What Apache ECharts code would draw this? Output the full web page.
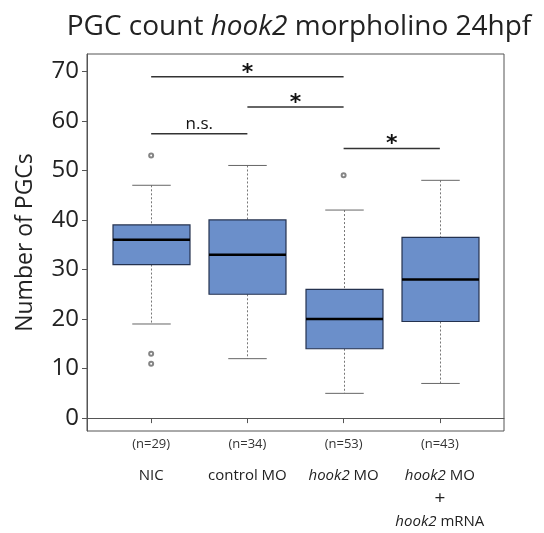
<!DOCTYPE html>
<html><head><meta charset="utf-8">
<script src="https://cdn.jsdelivr.net/npm/echarts@6/dist/echarts.min.js"></script>
<style>html,body{margin:0;padding:0;background:#fff}#c{width:544px;height:533px}</style>
</head><body><div id="c"></div>
<script>
const categories = ['NIC', 'control MO', 'hook2 MO', 'hook2 MO + hook2 mRNA'];
const counts = ['(n=29)', '(n=34)', '(n=53)', '(n=43)'];
const whiskerLow = [19, 12, 5, 7];
const q1 = [31, 25, 14, 19.5];
const median = [36, 33, 20, 28];
const q3 = [39, 40, 26, 36.5];
const whiskerHigh = [47, 51, 42, 48];
const outlierGroup = [1, 1, 1, 3];
const outlierValue = [53, 13, 11, 49];
const sigFrom = [1, 2, 1, 3];
const sigTo = [3, 3, 2, 4];
const sigY = [68.9, 62.8, 57.4, 54.4];
const sigText = ['*', '*', 'n.s.', '*'];
const yTicks = [0, 10, 20, 30, 40, 50, 60, 70];
const xPos = [1, 2, 3, 4];

const FONT = 'Open Sans';
const chart = echarts.init(document.getElementById('c'), null, {renderer: 'canvas'});

const boxData = xPos.map((x, i) => [x, whiskerLow[i], q1[i], median[i], q3[i], whiskerHigh[i]]);
const outData = outlierGroup.map((g, i) => [g, outlierValue[i]]);
const sigData = sigFrom.map((f, i) => [f, sigTo[i], sigY[i], i]);

function nameLabel(v) {
  const i = Math.round(v) - 1;
  if (i === 0) return 'NIC';
  if (i === 1) return 'control MO';
  if (i === 2) return '{i|hook2} MO';
  if (i === 3) return '{i|hook2} MO\n{p|+}\n{i|hook2} mRNA';
  return '';
}

function renderBox(params, api) {
  const x = api.value(0);
  const lo = api.coord([x, api.value(1)]);
  const a = api.coord([x, api.value(2)]);
  const m = api.coord([x, api.value(3)]);
  const b = api.coord([x, api.value(4)]);
  const hi = api.coord([x, api.value(5)]);
  const bw = api.size([0.8, 0])[0];
  const cw = api.size([0.4, 0])[0];
  const cx = Math.round(lo[0]) + 0.5;
  const dash = {stroke: '#777', lineWidth: 1, lineDash: [2, 2]};
  const cap = {stroke: '#666', lineWidth: 1};
  return {type: 'group', children: [
    {type: 'line', shape: {x1: cx, y1: hi[1], x2: cx, y2: b[1]}, style: dash},
    {type: 'line', shape: {x1: cx, y1: a[1], x2: cx, y2: lo[1]}, style: dash},
    {type: 'line', shape: {x1: cx - cw / 2, y1: hi[1], x2: cx + cw / 2, y2: hi[1]}, style: cap},
    {type: 'line', shape: {x1: cx - cw / 2, y1: lo[1], x2: cx + cw / 2, y2: lo[1]}, style: cap},
    {type: 'rect', shape: {x: cx - bw / 2, y: b[1], width: bw, height: a[1] - b[1]},
      style: {fill: '#6b8fca', stroke: '#24324f', lineWidth: 1.2}},
    {type: 'line', shape: {x1: cx - bw / 2, y1: m[1], x2: cx + bw / 2, y2: m[1]},
      style: {stroke: '#000', lineWidth: 2.5}}
  ]};
}

function renderSig(params, api) {
  const y = api.value(2);
  const p1 = api.coord([api.value(0), y]);
  const p2 = api.coord([api.value(1), y]);
  const txt = sigText[api.value(3)];
  const isStar = txt === '*';
  return {type: 'group', children: [
    {type: 'line', shape: {x1: p1[0], y1: p1[1], x2: p2[0], y2: p2[1]},
      style: {stroke: '#333', lineWidth: 1.5}},
    {type: 'text', style: {
      text: txt, x: (p1[0] + p2[0]) / 2, y: isStar ? p1[1] + 7 : p1[1] - 1,
      align: 'center', verticalAlign: 'bottom',
      fontFamily: isStar ? 'DejaVu Sans' : FONT, fontSize: isStar ? 22 : 17,
      fontWeight: isStar ? 'bold' : 'normal', fill: '#111'
    }}
  ]};
}

const option = {
  animation: false,
  backgroundColor: '#fff',
  title: {
    text: '{a|PGC count }{i|hook2}{a| morpholino 24hpf}',
    left: 294, top: 8, textAlign: 'center',
    textStyle: {
      fontWeight: 'normal',
      rich: {
        a: {fontFamily: FONT, fontSize: 28, fontWeight: 'normal', color: '#222'},
        i: {fontFamily: FONT, fontSize: 28, fontWeight: 'normal', fontStyle: 'italic', color: '#222'}
      }
    }
  },
  grid: {left: 87, right: 40, top: 54, bottom: 99, show: true, borderColor: '#555', borderWidth: 1, containLabel: false},
  xAxis: [{
    type: 'value', min: 1 / 3, max: 14 / 3,
    axisLine: {show: true, lineStyle: {color: '#555'}},
    splitLine: {show: false},
    axisTick: {show: true, length: 5, customValues: xPos, lineStyle: {color: '#555'}},
    axisLabel: {customValues: xPos, margin: 7, fontFamily: FONT, fontSize: 13, color: '#333',
      formatter: v => counts[Math.round(v) - 1] || ''}
  }, {
    type: 'value', min: 1 / 3, max: 14 / 3, position: 'bottom',
    axisLine: {show: false}, splitLine: {show: false}, axisTick: {show: false},
    axisLabel: {customValues: xPos, margin: 33, fontFamily: FONT, fontSize: 15, color: '#222',
      lineHeight: 23, formatter: nameLabel,
      rich: {
        i: {fontFamily: FONT, fontSize: 15, fontStyle: 'italic', color: '#222', lineHeight: 23},
        p: {fontFamily: FONT, fontSize: 19, color: '#222', lineHeight: 23}
      }}
  }],
  yAxis: {
    type: 'value', min: -2.6, max: 73.5,
    name: 'Number of PGCs', nameLocation: 'middle', nameGap: 50,
    nameTextStyle: {fontFamily: FONT, fontSize: 23, color: '#222'},
    axisLine: {show: true, lineStyle: {color: '#555'}},
    splitLine: {show: false},
    axisTick: {show: true, length: 5, customValues: yTicks, lineStyle: {color: '#555'}},
    axisLabel: {customValues: yTicks, margin: 8, fontFamily: FONT, fontSize: 24, color: '#222'}
  },
  series: [{
    type: 'custom', xAxisIndex: 0, yAxisIndex: 0, renderItem: renderBox, data: boxData,
    encode: {x: 0, y: [1, 2, 3, 4, 5]}, z: 2
  }, {
    type: 'scatter', xAxisIndex: 0, data: outData, symbol: 'emptyCircle', symbolSize: 4,
    itemStyle: {color: '#666', borderWidth: 1}, z: 3
  }, {
    type: 'custom', xAxisIndex: 0, renderItem: renderSig, data: sigData,
    encode: {x: [0, 1], y: 2}, z: 4
  }]
};
chart.setOption(option);
</script>
</body></html>
